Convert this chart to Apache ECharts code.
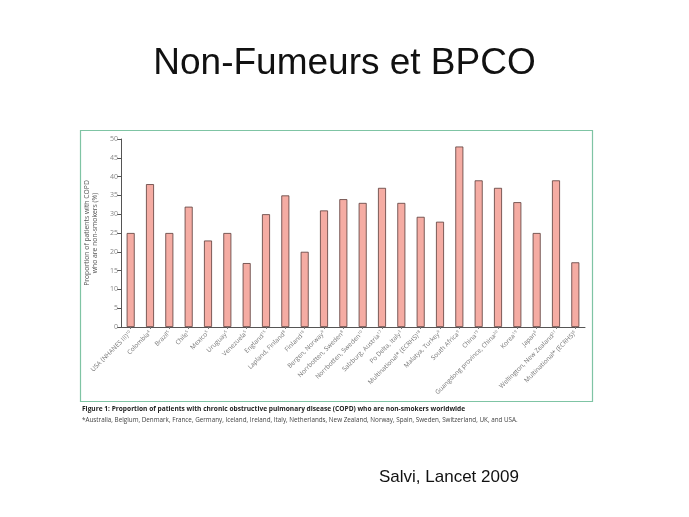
<!DOCTYPE html>
<html>
<head>
<meta charset="utf-8">
<script src="https://cdn.jsdelivr.net/npm/echarts@6/dist/echarts.min.js"></script>
<style>
  html, body { margin: 0; padding: 0; background: #fff; }
  #main { width: 689px; height: 517px; }
</style>
</head>
<body>
<div id="main"></div>
<script>
var sites = [
  'USA (NHANES III)', 'Colombia', 'Brazil', 'Chile', 'Mexico', 'Uruguay', 'Venezuela',
  'England', 'Lapland, Finland', 'Finland', 'Bergen, Norway', 'Norrbotten, Sweden',
  'Norrbotten, Sweden', 'Salzburg, Austria', 'Po Delta, Italy', 'Multinational* (ECRHS)',
  'Malatya, Turkey', 'South Africa', 'China', 'Guangdong province, China', 'Korea',
  'Japan', 'Wellington, New Zealand', 'Multinational* (ECRHS)'
];
var refs = ['10', '4', '5', '5', '5', '5', '5', '15', '8', '16', '9', '8', '10', '17',
  '3', '18', '9', '9', '19', '20', '19', '6', '21', '6'];
var nonSmokers = [25, 38, 25, 32, 23, 25, 17, 30, 35, 20, 31, 34, 33, 37, 33, 29.3, 28, 48,
  39, 37, 33.2, 25, 39, 17.2];
var yTicks = [0, 50, 5];

var categories = sites.map(function (s, i) { return s + '|' + refs[i]; });

var myChart = echarts.init(document.getElementById('main'));
var option = {
  backgroundColor: '#fff',
  animation: false,
  graphic: [
    {
      type: 'rect',
      shape: { x: 80.5, y: 130.5, width: 512, height: 271 },
      style: { fill: 'none', stroke: '#7fc4a4', lineWidth: 1.2 }
    },
    {
      type: 'text', left: 'center', top: 45,
      style: { text: 'Non-Fumeurs et BPCO', font: '37px "Liberation Sans", Arial, sans-serif', fill: '#111' }
    },
    {
      type: 'text', left: 82, top: 406,
      style: {
        text: 'Figure 1: Proportion of patients with chronic obstructive pulmonary disease (COPD) who are non-smokers worldwide',
        font: 'bold 6.6px "Open Sans", sans-serif', fill: '#222'
      }
    },
    {
      type: 'text', left: 82, top: 417,
      style: {
        text: '*Australia, Belgium, Denmark, France, Germany, Iceland, Ireland, Italy, Netherlands, New Zealand, Norway, Spain, Sweden, Switzerland, UK, and USA.',
        font: '6.3px "Open Sans", sans-serif', fill: '#444'
      }
    },
    {
      type: 'text', left: 379, top: 469,
      style: { text: 'Salvi, Lancet 2009', font: '17px "Liberation Sans", Arial, sans-serif', fill: '#111' }
    }
  ],
  grid: { left: 121, right: 104, top: 139, bottom: 190, containLabel: false },
  xAxis: {
    type: 'category',
    data: categories,
    axisLine: { lineStyle: { color: '#555', width: 1 } },
    axisTick: { show: true, alignWithLabel: true, length: 2, lineStyle: { color: '#777' } },
    axisLabel: {
      interval: 0,
      rotate: 45,
      margin: 5,
      color: '#777',
      formatter: function (v) {
        var p = v.split('|');
        return '{n|' + p[0] + '}{s|' + p[1] + '}';
      },
      rich: {
        n: { fontSize: 6.4, color: '#777', fontFamily: '"Open Sans", sans-serif' },
        s: { fontSize: 4, color: '#777', verticalAlign: 'top', padding: [0, 0, 3, 0], fontFamily: '"Open Sans", sans-serif' }
      }
    }
  },
  yAxis: {
    type: 'value',
    min: yTicks[0],
    max: yTicks[1],
    interval: yTicks[2],
    name: 'Proportion of patients with COPD\nwho are non-smokers (%)',
    nameLocation: 'middle',
    nameGap: 19,
    nameTextStyle: { fontSize: 6.8, color: '#555', lineHeight: 8, fontFamily: '"Open Sans", sans-serif' },
    axisLine: { show: true, lineStyle: { color: '#555', width: 1 } },
    axisTick: { show: true, length: 4, lineStyle: { color: '#555' } },
    splitLine: { show: false },
    axisLabel: { fontSize: 7, color: '#888', margin: 3, fontFamily: '"Open Sans", sans-serif' }
  },
  series: [{
    type: 'bar',
    data: nonSmokers,
    barWidth: 8,
    itemStyle: { color: '#f5aca3', borderColor: '#5b3b38', borderWidth: 0.8 }
  }]
};
myChart.setOption(option);
</script>
</body>
</html>
